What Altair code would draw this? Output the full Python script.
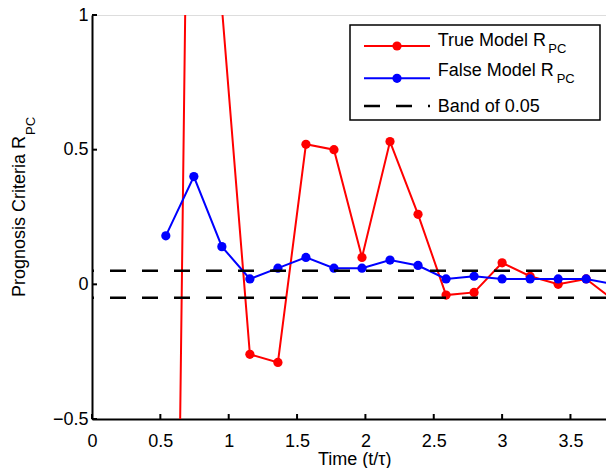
import altair as alt
import pandas as pd

# ---- data ----
time = [0.54, 0.745, 0.95, 1.155, 1.36, 1.565, 1.77, 1.975, 2.18, 2.385,
        2.59, 2.795, 3.0, 3.205, 3.41, 3.615, 3.82]
true_rpc = [-4.8, 3.6, 1.03, -0.26, -0.29, 0.52, 0.50, 0.10, 0.53, 0.26,
            -0.04, -0.03, 0.08, 0.03, 0.00, 0.02, -0.06]
false_rpc = [0.18, 0.40, 0.14, 0.02, 0.06, 0.10, 0.06, 0.06, 0.09, 0.07,
             0.02, 0.03, 0.02, 0.02, 0.02, 0.02, 0.00]
band = [0.05, -0.05]
x_ticks = [0, 0.5, 1, 1.5, 2, 2.5, 3, 3.5]
y_ticks = [-0.5, 0, 0.5, 1]
legend_labels = ["True Model R", "False Model R", "Band of 0.05"]
x_title = "Time (t/τ)"
y_title = "Prognosis Criteria R"
subscript = "PC"

FONT = "Liberation Sans"
W, H = 514, 404
XDOM = [0, 3.76]
YDOM = [-0.5, 1]

df_true = pd.DataFrame({"t": time, "v": true_rpc})
df_false = pd.DataFrame({"t": time, "v": false_rpc})
df_band = pd.DataFrame({"v": band})
df_xt = pd.DataFrame({"t": x_ticks})
df_yt = pd.DataFrame({"v": y_ticks})
one = pd.DataFrame({"a": [0]})

xs = alt.Scale(domain=XDOM, nice=False, zero=False)
ys = alt.Scale(domain=YDOM, nice=False, zero=False)

xax = alt.Axis(values=x_ticks, format="~g", ticks=False, tickSize=0, labelPadding=13,
               grid=False, title=None, domainColor="black", domainWidth=2,
               labelFont=FONT, labelFontSize=18, labelColor="black",
               labelFlush=False, labelOverlap=False)
yax = alt.Axis(values=y_ticks, format="~g", ticks=False, tickSize=0, labelPadding=4,
               grid=False, title=None, domainColor="black", domainWidth=2,
               labelFont=FONT, labelFontSize=18, labelColor="black",
               labelFlush=False, labelOverlap=False)

red_line = alt.Chart(df_true).mark_line(color="#ff0000", strokeWidth=2, clip=True).encode(
    x=alt.X("t:Q", scale=xs, axis=xax), y=alt.Y("v:Q", scale=ys, axis=yax))
red_pts = alt.Chart(df_true).mark_circle(color="#ff0000", size=85, opacity=1, clip=True).encode(
    x=alt.X("t:Q", scale=xs), y=alt.Y("v:Q", scale=ys))
blue_line = alt.Chart(df_false).mark_line(color="#0000ff", strokeWidth=2, clip=True).encode(
    x=alt.X("t:Q", scale=xs), y=alt.Y("v:Q", scale=ys))
blue_pts = alt.Chart(df_false).mark_circle(color="#0000ff", size=85, opacity=1, clip=True).encode(
    x=alt.X("t:Q", scale=xs), y=alt.Y("v:Q", scale=ys))
band_rules = alt.Chart(df_band).mark_rule(color="black", strokeWidth=2.5, strokeDash=[16, 16]).encode(
    y=alt.Y("v:Q", scale=ys))

# inward ticks
xt = alt.Chart(df_xt).mark_rule(color="black", strokeWidth=2).encode(
    x=alt.X("t:Q", scale=xs), y=alt.value(H), y2=alt.value(H - 5))
yt = alt.Chart(df_yt).mark_rule(color="black", strokeWidth=2).encode(
    y=alt.Y("v:Q", scale=ys), x=alt.value(0), x2=alt.value(5))

# legend
leg_box = alt.Chart(one).mark_rect(fill="white", stroke="black", strokeWidth=1.5).encode(
    x=alt.value(258), x2=alt.value(508), y=alt.value(10), y2=alt.value(105))
leg_layers = [leg_box]
for yy, col in [(31, "#ff0000"), (63.3, "#0000ff")]:
    leg_layers.append(alt.Chart(one).mark_rule(color=col, strokeWidth=2).encode(
        x=alt.value(272), x2=alt.value(338), y=alt.value(yy)))
    leg_layers.append(alt.Chart(one).mark_circle(color=col, size=85, opacity=1).encode(
        x=alt.value(305), y=alt.value(yy)))
leg_layers.append(alt.Chart(one).mark_rule(color="black", strokeWidth=2.5, strokeDash=[16, 16]).encode(
    x=alt.value(272), x2=alt.value(338), y=alt.value(91)))
for lab, yy in zip(legend_labels, [30.7, 60.7, 97]):
    leg_layers.append(alt.Chart(one).mark_text(
        text=lab, font=FONT, fontSize=18, align="left", baseline="alphabetic", color="black").encode(
        x=alt.value(345.7), y=alt.value(yy)))
for xx, yy in [(456.3, 38.3), (464.7, 68.3)]:
    leg_layers.append(alt.Chart(one).mark_text(
        text=subscript, font=FONT, fontSize=13, align="left", baseline="alphabetic", color="black").encode(
        x=alt.value(xx), y=alt.value(yy)))

# axis titles
ytitle = alt.Chart(one).mark_text(text=y_title, font=FONT, fontSize=18, angle=270,
                                  align="center", baseline="alphabetic", color="black").encode(
    x=alt.value(-67), y=alt.value(201.5))
ytitle_sub = alt.Chart(one).mark_text(text=subscript, font=FONT, fontSize=13, angle=270,
                                      align="left", baseline="alphabetic", color="black").encode(
    x=alt.value(-57), y=alt.value(120))
xtitle = alt.Chart(one).mark_text(text=x_title, font=FONT, fontSize=18,
                                  align="center", baseline="alphabetic", color="black").encode(
    x=alt.value(262.7), y=alt.value(450))

chart = alt.layer(
    red_line, red_pts, blue_line, blue_pts, band_rules, xt, yt,
    *leg_layers, ytitle, ytitle_sub, xtitle
).properties(
    width=W, height=H,
    autosize=alt.AutoSizeParams(type="none"),
    padding={"left": 84, "top": 7, "right": 0, "bottom": 49},
).configure_view(stroke=None).configure(background="white")

chart.save("out.html", embed_options={"renderer": "svg", "actions": False})
